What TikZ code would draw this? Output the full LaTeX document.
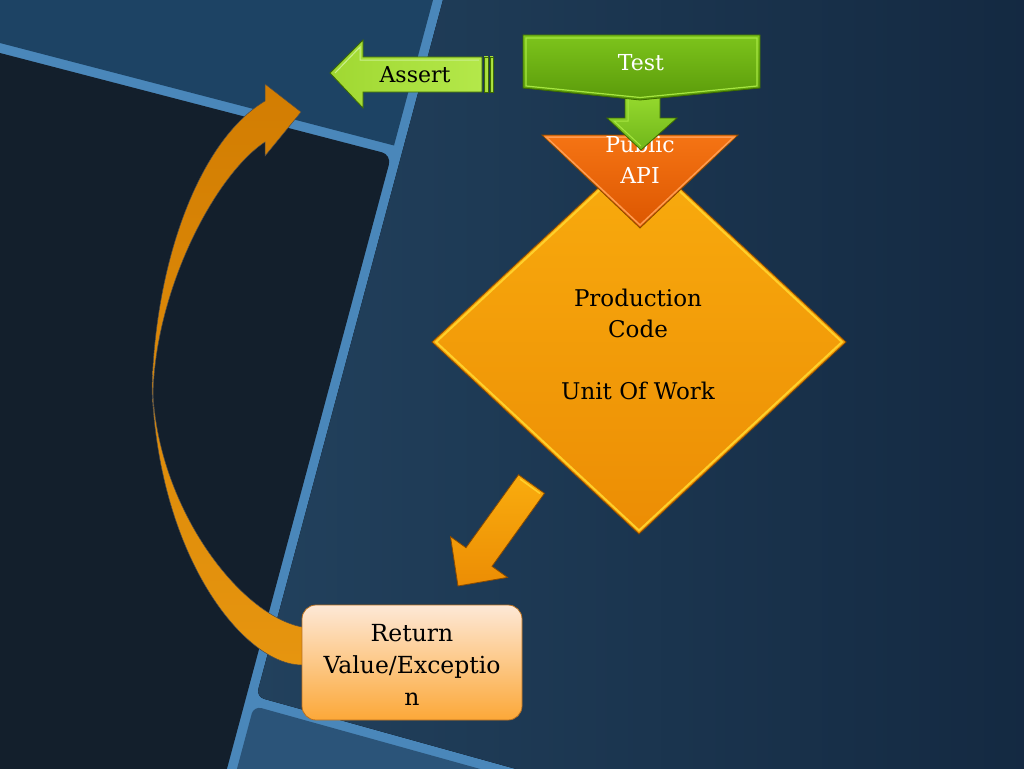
\documentclass[tikz,border=0pt]{standalone}
\usepackage{fontspec}
\setmainfont{DejaVu Serif}
\definecolor{bandblue}{HTML}{4A87BA}
\definecolor{regionA}{HTML}{1D4364}
\definecolor{darkpanel}{HTML}{131F2C}
\definecolor{regionCL}{HTML}{22415D}
\definecolor{regionCR}{HTML}{132840}
\definecolor{regionD}{HTML}{2B5479}
\definecolor{curveTop}{HTML}{D27D02}
\definecolor{curveBot}{HTML}{E6950F}
\definecolor{testTop}{HTML}{7DC41C}
\definecolor{testBot}{HTML}{5A9A0A}
\definecolor{greenRim}{HTML}{A6E640}
\definecolor{greenDark}{HTML}{3C6A00}
\definecolor{arrowTop}{HTML}{96DA2E}
\definecolor{arrowBot}{HTML}{70B61A}
\definecolor{assertL}{HTML}{A0D832}
\definecolor{assertR}{HTML}{B4E84A}
\definecolor{apiTop}{HTML}{F57414}
\definecolor{apiBot}{HTML}{DC5600}
\definecolor{apiRim}{HTML}{FF9C50}
\definecolor{diaTop}{HTML}{F9AC0E}
\definecolor{diaBot}{HTML}{EC8D04}
\definecolor{diaRim}{HTML}{FFD02A}
\definecolor{shapeEdge}{HTML}{8A4A00}
\definecolor{retTop}{HTML}{FDE8D6}
\definecolor{retBot}{HTML}{FCA838}
\definecolor{retEdge}{HTML}{B87020}
\tikzset{
  lbl/.style={font=\fontsize{22}{31}\selectfont, align=center, inner sep=0pt},
  greenbox/.style={top color=testTop, bottom color=testBot, draw=greenDark, line width=0.8pt},
  greenrim/.style={draw=greenRim, line width=1.2pt},
  downarrow/.style={top color=arrowTop, bottom color=arrowBot, draw=greenDark, line width=0.8pt},
  assertarrow/.style={left color=assertL, right color=assertR, draw=greenDark, line width=0.8pt},
  apitri/.style={top color=apiTop, bottom color=apiBot, draw=shapeEdge, line width=0.8pt},
  diamondfill/.style={top color=diaTop, bottom color=diaBot, draw=shapeEdge, line width=0.8pt},
  rim/.style={draw=#1, line width=2pt},
  retbox/.style={top color=retTop, bottom color=retBot, draw=retEdge, line width=0.8pt, rounded corners=14pt},
  curvearrow/.style={top color=curveTop, bottom color=curveBot, draw=black!70, line width=0.5pt},
}
\begin{document}
\begin{tikzpicture}[x=1pt,y=-1pt]
\useasboundingbox (0,0) rectangle (1024,768);
% background bands and panels
\fill[bandblue] (-40,-40) rectangle (1064,808);
\fill[regionA] (-40,-40) -- (443.7,-40) -- (394,145.5) -- (-40,32.6) -- cycle;
\fill[darkpanel, rounded corners=10pt] (-40,42.6) -- (391.5,154.8) -- (218.6,800) -- (-40,800) -- cycle;
\fill[left color=regionCL, right color=regionCR, rounded corners=8pt] (453.7,-40) -- (1064,-40) -- (1064,808) -- (656.5,808) -- (256.3,696.7) -- cycle;
\fill[regionD, rounded corners=8pt] (253.8,706) -- (620.5,808) -- (226.5,808) -- cycle;

% curved return arrow
\path[curvearrow] (312,665) -- (302,665) .. controls (245,665) and (160,560) .. (152,390)
   .. controls (155,260) and (200,140) .. (265,101) -- (265,84) -- (301,112) -- (265,156) -- (265,142)
   .. controls (215,175) and (155,290) .. (153,395)
   .. controls (160,510) and (240,615) .. (302,627) -- (312,627) -- cycle;

% production code diamond
\path[diamondfill] (639,150) -- (846,342) -- (639,534) -- (432,342) -- cycle;
\draw[rim=diaRim] (639,153.5) -- (842,342) -- (639,530.5) -- (436,342) -- cycle;
\node[lbl, font=\fontsize{23}{31}\selectfont] (pc) at (638,344) {Production\\Code\\[31pt]Unit Of Work};

% public API triangle
\path[apitri] (542,135) -- (738,135) -- (640,228) -- cycle;
\draw[rim=apiRim, line width=1.5pt] (546,137) -- (734,137) -- (640,225) -- cycle;
\node[lbl, text=white] (api) at (640,160) {Public\\API};

% green arrow from Test into API
\path[downarrow] (625,94) -- (660,94) -- (660,118) -- (677,118) -- (641,150) -- (607,118) -- (625,118) -- cycle;
\draw[greenRim, line width=1pt] (628,97) -- (628,121) -- (614,121) -- (641,146);

% Test box
\path[greenbox] (523,35) -- (760,35) -- (760,88) -- (640,100) -- (523,88) -- cycle;
\draw[greenrim] (526,38) -- (757,38) -- (757,86) -- (640,97.5) -- (526,86) -- cycle;
\node[lbl, text=white] (test) at (641,63) {Test};

% Assert arrow
\path[assertarrow] (330,73) -- (363,40) -- (363,57) -- (482,57) -- (482,92) -- (363,92) -- (363,108) -- cycle;
\draw[greenRim!60!white, line width=1pt] (335,73) -- (360,47) -- (360,60) -- (479,60);
\path[assertarrow] (484,57) rectangle (488,92);
\path[assertarrow] (490,57) rectangle (493,92);
\node[lbl] (assert) at (415,75) {Assert};

% yellow arrow down-left
\path[diamondfill] (518.5,474.7) -- (544.5,493.3) -- (492,566.3) -- (507.5,577.4) -- (458,586) -- (450.5,536.6) -- (466,547.7) -- cycle;
\draw[diaRim, line width=1.5pt] (520,479) -- (540,493.5);

% return value box
\path[retbox] (302,605) rectangle (522,720);
\node[lbl, font=\fontsize{23.5}{32}\selectfont] (ret) at (412,665) {Return\\Value/Exceptio\\n};
\end{tikzpicture}
\end{document}
